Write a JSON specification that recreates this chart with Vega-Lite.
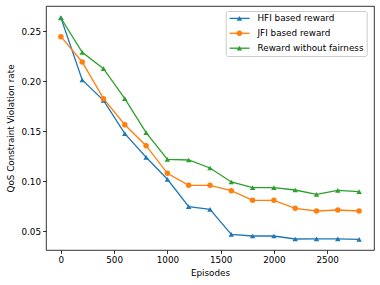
{
  "$schema": "https://vega.github.io/schema/vega-lite/v6.json",
  "width": 328,
  "height": 244,
  "autosize": {"type": "none"},
  "padding": {"left": 46, "top": 6, "right": 6, "bottom": 35},
  "config": {
    "font": "DejaVu Sans",
    "view": {"stroke": "black", "strokeWidth": 0.8},
    "axis": {"domain": false, "grid": false, "tickColor": "black", "tickSize": 3.5, "tickWidth": 0.8, "labelFontSize": 8.8, "titleFontSize": 8.8, "labelColor": "black", "titleColor": "black", "titleFontWeight": "normal", "labelPadding": 2}
  },
  "data": {"values": [
    {"episode": 0, "series": "HFI based reward", "value": 0.2636},
    {"episode": 200, "series": "HFI based reward", "value": 0.2013},
    {"episode": 400, "series": "HFI based reward", "value": 0.181},
    {"episode": 600, "series": "HFI based reward", "value": 0.1476},
    {"episode": 800, "series": "HFI based reward", "value": 0.124},
    {"episode": 1000, "series": "HFI based reward", "value": 0.102},
    {"episode": 1200, "series": "HFI based reward", "value": 0.0746},
    {"episode": 1400, "series": "HFI based reward", "value": 0.072},
    {"episode": 1600, "series": "HFI based reward", "value": 0.047},
    {"episode": 1800, "series": "HFI based reward", "value": 0.0453},
    {"episode": 2000, "series": "HFI based reward", "value": 0.0453},
    {"episode": 2200, "series": "HFI based reward", "value": 0.0423},
    {"episode": 2400, "series": "HFI based reward", "value": 0.0425},
    {"episode": 2600, "series": "HFI based reward", "value": 0.0425},
    {"episode": 2800, "series": "HFI based reward", "value": 0.042},
    {"episode": 0, "series": "JFI based reward", "value": 0.2446},
    {"episode": 200, "series": "JFI based reward", "value": 0.2193},
    {"episode": 400, "series": "JFI based reward", "value": 0.1826},
    {"episode": 600, "series": "JFI based reward", "value": 0.1566},
    {"episode": 800, "series": "JFI based reward", "value": 0.1356},
    {"episode": 1000, "series": "JFI based reward", "value": 0.108},
    {"episode": 1200, "series": "JFI based reward", "value": 0.096},
    {"episode": 1400, "series": "JFI based reward", "value": 0.096},
    {"episode": 1600, "series": "JFI based reward", "value": 0.0906},
    {"episode": 1800, "series": "JFI based reward", "value": 0.081},
    {"episode": 2000, "series": "JFI based reward", "value": 0.081},
    {"episode": 2200, "series": "JFI based reward", "value": 0.073},
    {"episode": 2400, "series": "JFI based reward", "value": 0.0703},
    {"episode": 2600, "series": "JFI based reward", "value": 0.0713},
    {"episode": 2800, "series": "JFI based reward", "value": 0.0703},
    {"episode": 0, "series": "Reward without fairness", "value": 0.2633},
    {"episode": 200, "series": "Reward without fairness", "value": 0.229},
    {"episode": 400, "series": "Reward without fairness", "value": 0.2126},
    {"episode": 600, "series": "Reward without fairness", "value": 0.1826},
    {"episode": 800, "series": "Reward without fairness", "value": 0.1486},
    {"episode": 1000, "series": "Reward without fairness", "value": 0.122},
    {"episode": 1200, "series": "Reward without fairness", "value": 0.1213},
    {"episode": 1400, "series": "Reward without fairness", "value": 0.1133},
    {"episode": 1600, "series": "Reward without fairness", "value": 0.0993},
    {"episode": 1800, "series": "Reward without fairness", "value": 0.0936},
    {"episode": 2000, "series": "Reward without fairness", "value": 0.0936},
    {"episode": 2200, "series": "Reward without fairness", "value": 0.0913},
    {"episode": 2400, "series": "Reward without fairness", "value": 0.087},
    {"episode": 2600, "series": "Reward without fairness", "value": 0.091},
    {"episode": 2800, "series": "Reward without fairness", "value": 0.0896}
  ]},
  "encoding": {
    "x": {"field": "episode", "type": "quantitative", "scale": {"domain": [-140, 2940], "nice": false, "zero": false}, "axis": {"values": [0, 500, 1000, 1500, 2000, 2500], "format": "d", "title": "Episodes", "titlePadding": 4}},
    "y": {"field": "value", "type": "quantitative", "scale": {"domain": [0.0313, 0.2753], "nice": false, "zero": false}, "axis": {"values": [0.05, 0.1, 0.15, 0.2, 0.25], "format": ".2f", "title": "QoS Constraint Violation rate", "titlePadding": 5}}
  },
  "layer": [
    {
      "mark": {"type": "line", "strokeWidth": 1.3},
      "encoding": {
        "stroke": {"field": "series", "type": "nominal", "scale": {"domain": ["HFI based reward", "JFI based reward", "Reward without fairness"], "range": ["#1f77b4", "#ff7f0e", "#2ca02c"]},
          "legend": {"title": null, "orient": "none", "legendX": 179.7, "legendY": 5, "symbolType": "M-1.4,0H6.6", "symbolSize": 25, "symbolStrokeWidth": 1.3, "labelFontSize": 8.8, "labelColor": "black", "labelOffset": 20, "padding": 3, "rowPadding": 4.9, "strokeColor": "#cccccc", "fillColor": "white", "cornerRadius": 2}}
      }
    },
    {
      "mark": {"type": "point", "filled": true, "opacity": 1, "size": 30},
      "encoding": {
        "fill": {"field": "series", "type": "nominal", "scale": {"range": ["#1f77b4", "#ff7f0e", "#2ca02c"]},
          "legend": {"title": null, "orient": "none", "legendX": 186, "legendY": 5, "symbolSize": 30, "symbolStrokeWidth": 0, "labelExpr": "''", "labelFontSize": 8.8, "padding": 3, "rowPadding": 4.9, "symbolOpacity": 1}},
        "shape": {"field": "series", "type": "nominal", "scale": {"range": ["triangle-up", "circle", "triangle-up"]}}
      }
    }
  ]
}
